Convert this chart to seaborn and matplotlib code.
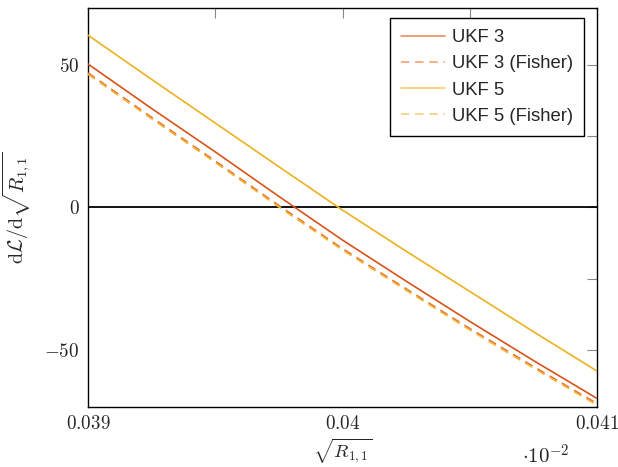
import matplotlib
matplotlib.use("Agg")
import matplotlib.pyplot as plt
from matplotlib.lines import Line2D
import seaborn as sns
import pandas as pd

sns.set_style("white")
plt.rcParams['mathtext.fontset'] = 'cm'
plt.rcParams['font.family'] = ['Liberation Sans', 'DejaVu Sans']

# values
x = [0.03900, 0.03925, 0.03950, 0.03975, 0.04000, 0.04025, 0.04050, 0.04075, 0.04100]
ukf3 = [50.2, 34.6, 19.4, 3.8, -11.5, -25.9, -40.0, -53.7, -67.0]
ukf3_fisher = [47.1, 31.5, 16.2, 0.6, -14.5, -28.6, -42.5, -55.8, -68.8]
ukf5 = [60.3, 44.8, 29.5, 14.2, -1.0, -15.4, -29.5, -43.6, -57.4]
ukf5_fisher = [46.6, 31.0, 15.7, 0.1, -15.0, -29.1, -43.0, -56.3, -69.3]

series = [
    ('UKF 3', ukf3, '#d95319', '-'),
    ('UKF 3 (Fisher)', ukf3_fisher, '#e8702a', (0, (5, 3.5))),
    ('UKF 5', ukf5, '#edb120', '-'),
    ('UKF 5 (Fisher)', ukf5_fisher, '#f2b53a', (0, (5, 3.5))),
]

fig = plt.figure(figsize=(6.18, 4.67), dpi=100)
ax = fig.add_axes([88 / 618, 1 - 407 / 467, (597 - 88) / 618, (407 - 7.5) / 467])

ax.axhline(0, color='black', lw=1.3, zorder=1)

handles = []
for name, vals, color, ls in series:
    df = pd.DataFrame({'x': x, 'y': vals})
    sns.lineplot(data=df, x='x', y='y', ax=ax, color=color, lw=1.2,
                 linestyle=ls, legend=False, zorder=3)
    handles.append(Line2D([], [], color=color, lw=1.2, linestyle=ls,
                          alpha=0.65, label=name))

ax.set_xlim(0.039, 0.041)
ax.set_ylim(-70, 70)
ax.set_xticks([0.039, 0.040, 0.041])
ax.set_xticklabels(['$0.039$', '$0.04$', '$0.041$'])
ax.set_xticks([0.0395, 0.0405], minor=True)
ax.set_yticks([-50, 0, 50])
ax.set_yticklabels(['$-50$', '$0$', '$50$'])
ax.set_yticks([-25, 25], minor=True)
ax.tick_params(which='both', direction='in', top=True, right=True,
               color='#888888', length=7, width=0.8, labelsize=13.8, pad=6)

for sp in ax.spines.values():
    sp.set_color('black')
    sp.set_linewidth(1.0)

ax.set_xlabel(r'$\sqrt{R_{1,1}}$', fontsize=13.5)
ax.xaxis.set_label_coords(0.5, -0.076)
ax.set_ylabel(r'$\mathrm{d}\mathcal{L}/\mathrm{d}\sqrt{R_{1,1}}$', fontsize=14.5)
ax.yaxis.set_label_coords(-0.108, 0.5)
fig.text(546 / 618, 1 - 456 / 467, r'$\cdot 10^{-2}$', fontsize=15,
         ha='center', va='center')

leg = ax.legend(handles=handles, loc='upper right', fontsize=13.3,
                handlelength=2.4, labelspacing=0.5, borderpad=0.6,
                handletextpad=0.35, borderaxespad=0, fancybox=False,
                framealpha=1, bbox_to_anchor=((584 - 88) / 509, (407 - 18) / 399.5))
leg.get_frame().set_edgecolor('black')
leg.get_frame().set_linewidth(1.0)

fig.savefig('out.png', dpi=100)
